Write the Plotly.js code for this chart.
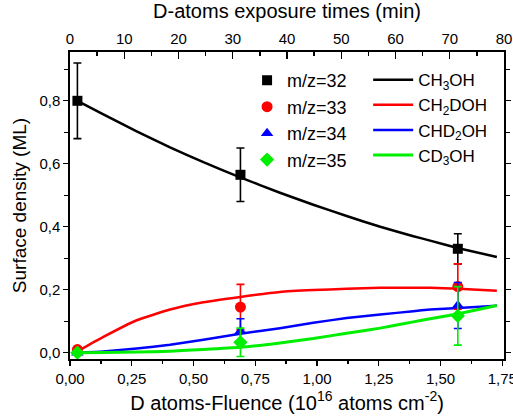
<!DOCTYPE html>
<html>
<head>
<meta charset="utf-8">
<script src="https://cdn.plot.ly/plotly-3.0.1.min.js"></script>
<style>html,body{margin:0;padding:0;background:#fff;}#chart{width:513px;height:416px;}</style>
</head>
<body>
<div id="chart"></div>
<script>
// Measured points (fluence, 10^16 atoms cm^-2)
const pointX = [0.03, 0.69, 1.57];
const mz32 = [0.80, 0.565, 0.330];
const mz32err = [0.12, 0.085, 0.048];
const mz33 = [0.010, 0.145, 0.210];
const mz33err = [0.0, 0.072, 0.072];
const mz34 = [0.0, 0.068, 0.150];
const mz34err = [0.0, 0.040, 0.073];
const mz35 = [0.0, 0.033, 0.117];
const mz35err = [0.0, 0.045, 0.093];

// Model curves
const curveX   = [0.03, 0.135, 0.27, 0.405, 0.54, 0.689, 0.85, 0.985, 1.12, 1.256, 1.39, 1.458, 1.573, 1.728];
const ch3oh    = [0.800, 0.757, 0.703, 0.652, 0.605, 0.557, 0.508, 0.470, 0.434, 0.400, 0.370, 0.356, 0.332, 0.304];
const ch2doh   = [0.004, 0.050, 0.103, 0.137, 0.160, 0.177, 0.193, 0.199, 0.203, 0.206, 0.206, 0.206, 0.203, 0.197];
const chd2oh   = [0.0, 0.004, 0.013, 0.025, 0.041, 0.060, 0.078, 0.095, 0.110, 0.121, 0.132, 0.137, 0.142, 0.149];
const cd3oh    = [0.0, 0.001, 0.002, 0.005, 0.010, 0.017, 0.031, 0.045, 0.062, 0.078, 0.098, 0.108, 0.124, 0.150];

const pointNames = ['m/z=32', 'm/z=33', 'm/z=34', 'm/z=35'];
const curveNames = ['CH<sub>3</sub>OH', 'CH<sub>2</sub>DOH', 'CHD<sub>2</sub>OH', 'CD<sub>3</sub>OH'];
const colors = ['#000000', '#ff0000', '#0000ff', '#00ee00'];
const symbols = ['square', 'circle', 'triangle-up', 'diamond'];
const sizes = [10, 11, 11, 11];
const pointY = [mz32, mz33, mz34, mz35];
const pointErr = [mz32err, mz33err, mz34err, mz35err];
const curveY = [ch3oh, ch2doh, chd2oh, cd3oh];

const timeRange = [0, 80]; // top axis, minutes

const FONT = 'Liberation Sans, Arial, sans-serif';
const traces = [];
for (let i = 0; i < 4; i++) {
  traces.push({
    x: curveX, y: curveY[i], mode: 'lines', name: curveNames[i],
    line: {color: colors[i], width: i === 3 ? 3 : 2.5, shape: 'spline', smoothing: 0.4},
    legend: 'legend2', hoverinfo: 'skip'
  });
}
for (let i = 0; i < 4; i++) {
  traces.push({
    x: pointX, y: pointY[i], mode: 'markers', name: pointNames[i],
    marker: {color: colors[i], symbol: symbols[i], size: sizes[i]},
    error_y: {type: 'data', array: pointErr[i], visible: true, color: colors[i], thickness: 1.6, width: 4},
    legend: 'legend'
  });
}
traces.push({x: timeRange, y: [null, null], xaxis: 'x2', yaxis: 'y', mode: 'lines', showlegend: false, hoverinfo: 'skip'});

const layout = {
  width: 513, height: 416,
  margin: {l: 70, r: 9, t: 52, b: 57},
  paper_bgcolor: '#fff', plot_bgcolor: '#fff',
  separators: ',.',
  font: {family: FONT, size: 15, color: '#000'},
  showlegend: true,
  xaxis: {
    range: [0, 1.757], tick0: 0, dtick: 0.25, tickformat: '.2f',
    ticks: 'outside', ticklen: 5, tickwidth: 1.3, tickcolor: '#000',
    minor: {dtick: 0.125, ticks: 'outside', ticklen: 3, tickwidth: 1.3, tickcolor: '#000'},
    showline: true, linecolor: '#000', linewidth: 1.6, mirror: false,
    showgrid: false, zeroline: false, ticklabeloverflow: 'allow',
    tickfont: {size: 15},
    title: {text: 'D atoms-Fluence (10<sup>16</sup> atoms cm<sup>-2</sup>)', font: {size: 20}, standoff: 10}
  },
  xaxis2: {
    overlaying: 'x', side: 'top', anchor: 'y', range: timeRange, tick0: 0, dtick: 10,
    ticks: 'inside', ticklen: 7, tickwidth: 1.3, tickcolor: '#000',
    minor: {dtick: 5, ticks: 'inside', ticklen: 4, tickwidth: 1.3, tickcolor: '#000'},
    showline: true, linecolor: '#000', linewidth: 1.6, ticklabeloverflow: 'allow',
    showgrid: false, zeroline: false,
    tickfont: {size: 15},
    title: {text: 'D-atoms exposure times (min)', font: {size: 20}, standoff: 6}
  },
  yaxis: {
    range: [-0.02, 0.955], tick0: 0, dtick: 0.2, tickformat: '.1f',
    ticks: 'outside', ticklen: 5, tickwidth: 1.3, tickcolor: '#000',
    minor: {dtick: 0.1, ticks: 'outside', ticklen: 4, tickwidth: 1.3, tickcolor: '#000'},
    showline: true, linecolor: '#000', linewidth: 1.6, mirror: 'ticks',
    showgrid: false, zeroline: false,
    tickfont: {size: 15},
    title: {text: 'Surface density (ML)', font: {size: 19}, standoff: 8}
  },
  legend: {
    x: 0.408, y: 0.967, xanchor: 'left', yanchor: 'top',
    bgcolor: 'rgba(0,0,0,0)', borderwidth: 0, font: {size: 18}, tracegroupgap: 0
  },
  legend2: {
    x: 0.687, y: 0.967, xanchor: 'left', yanchor: 'top', itemwidth: 40,
    bgcolor: 'rgba(0,0,0,0)', borderwidth: 0, font: {size: 17}, tracegroupgap: 0
  }
};

Plotly.newPlot('chart', traces, layout, {staticPlot: true, displayModeBar: false});
</script>
</body>
</html>
